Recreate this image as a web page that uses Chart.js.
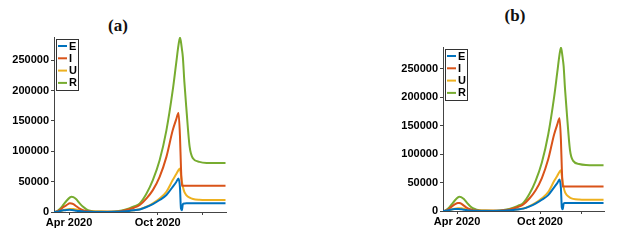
<!DOCTYPE html>
<html>
<head>
<meta charset="utf-8">
<script src="https://cdn.jsdelivr.net/npm/chart.js@4.4.0/dist/chart.umd.min.js"></script>
<style>
  body { margin: 0; background: #fff; width: 617px; height: 242px; position: relative; overflow: hidden; }
  .panel { position: absolute; top: 0; height: 242px; }
  .ttl { position: absolute; font: bold 17px "Liberation Serif", "Times New Roman", serif; color: #111; transform: translate(-50%, -50%); }
</style>
</head>
<body>
<div class="ttl" style="left:118px; top:26px">(a)</div>
<div class="ttl" style="left:515px; top:16px">(b)</div>
<div class="panel" style="left:0; width:300px"><canvas id="chart-a"></canvas></div>
<div class="panel" style="left:389px; width:228px"><canvas id="chart-b"></canvas></div>
<script>
// days since 1 Mar 2020
const days = [0, 5, 12, 19, 26, 33, 36, 40, 46, 53, 60, 67, 74, 81, 95, 110, 125, 140, 155, 165,
  177, 191, 204, 218, 232, 245, 252, 257, 260, 262, 264, 266, 269, 273, 280, 287, 300, 315, 335, 354];

const seriesE = [0, 300, 1500, 2700, 3400, 3500, 3300, 3000, 2200, 1500, 900, 500, 300, 200, 200, 200, 400, 900, 1800, 2800,
  4200, 8200, 13100, 19700, 27900, 41500, 49000, 55200, 40000, 6000, 3000, 13100, 14000, 14200, 14200, 14200, 14200, 14200, 14200, 14200];
const seriesI = [0, 500, 3000, 7700, 11500, 14200, 14000, 13000, 9500, 5500, 3000, 1500, 800, 500, 300, 300, 600, 1800, 4500, 7000,
  11500, 22400, 36000, 57900, 90700, 134400, 152000, 162800, 125000, 75000, 43100, 43000, 43000, 43000, 43000, 43000, 43000, 43000, 43000, 43000];
const seriesU = [0, 200, 1200, 2800, 4000, 4800, 5000, 4800, 4000, 2800, 1700, 1000, 600, 400, 300, 300, 500, 1000, 2000, 3000,
  4400, 8700, 14200, 22400, 33300, 52500, 62000, 69000, 71600, 62000, 50000, 41500, 33000, 27900, 23500, 21300, 20000, 19700, 19700, 19700];
const seriesR = [0, 800, 5000, 11500, 18500, 24000, 25100, 24500, 21000, 14200, 8500, 4400, 2200, 1200, 700, 600, 1000, 2500, 6000, 9000,
  14200, 30600, 52500, 85200, 134400, 200000, 243800, 275000, 287000, 280000, 268000, 254500, 215000, 172600, 107000, 88000, 82500, 80800, 80500, 80500];

const seriesLabels = ['E', 'I', 'U', 'R'];
const seriesColors = ['#0072BD', '#D95319', '#EDB120', '#77AC30'];

const xTickDays = [31, 214, 306];
const xTickLabels = ['Apr 2020', 'Oct 2020', ''];
const yTicks = [0, 50000, 100000, 150000, 200000, 250000];

const tickFont = { family: 'Liberation Sans, Arial, sans-serif', size: 11, weight: 'bold' };

// legend box drawn inside the plot, top-left corner
const boxLegend = {
  id: 'boxLegend',
  afterDraw(chart) {
    const ctx = chart.ctx;
    const area = chart.chartArea;
    const x0 = area.left + 2, y0 = area.top + 2;
    const w = 22, h = 51, step = 12.3;
    ctx.save();
    ctx.fillStyle = '#fff';
    ctx.fillRect(x0, y0, w, h);
    ctx.strokeStyle = '#333';
    ctx.lineWidth = 1;
    ctx.strokeRect(x0 + 0.5, y0 + 0.5, w, h);
    ctx.font = 'bold 11px "Liberation Sans", Arial, sans-serif';
    ctx.textBaseline = 'middle';
    chart.data.datasets.forEach((ds, i) => {
      const y = y0 + 7 + i * step;
      ctx.strokeStyle = ds.borderColor;
      ctx.lineWidth = 2;
      ctx.beginPath();
      ctx.moveTo(x0 + 2, y);
      ctx.lineTo(x0 + 11, y);
      ctx.stroke();
      ctx.fillStyle = '#000';
      ctx.fillText(ds.label, x0 + 13, y + 0.5);
    });
    ctx.restore();
  }
};

function makeChart(id, top, right, bottomH) {
  const series = [seriesE, seriesI, seriesU, seriesR];
  return new Chart(document.getElementById(id), {
    type: 'line',
    data: {
      datasets: series.map((vals, i) => ({
        label: seriesLabels[i],
        data: days.map((d, j) => ({ x: d, y: vals[j] })),
        borderColor: seriesColors[i],
        borderWidth: 2,
        pointRadius: 0,
        fill: false,
        cubicInterpolationMode: 'monotone'
      }))
    },
    options: {
      responsive: false,
      animation: false,
      maintainAspectRatio: false,
      layout: { padding: { top: top, right: right, left: 0, bottom: 0 } },
      plugins: { legend: { display: false }, tooltip: { enabled: false } },
      scales: {
        x: {
          type: 'linear',
          min: 0,
          max: 355,
          afterBuildTicks: (scale) => { scale.ticks = xTickDays.map(v => ({ value: v })); },
          afterFit: (scale) => { scale.height = bottomH; },
          grid: { drawOnChartArea: false, tickLength: 3, color: '#444' },
          border: { color: '#444' },
          ticks: {
            autoSkip: false,
            maxRotation: 0,
            padding: 1,
            color: '#000',
            font: tickFont,
            callback: (v) => xTickLabels[xTickDays.indexOf(v)]
          }
        },
        y: {
          min: 0,
          max: 288000,
          afterBuildTicks: (scale) => { scale.ticks = yTicks.map(v => ({ value: v })); },
          afterFit: (scale) => { scale.width = 54; },
          grid: { drawOnChartArea: false, tickLength: 3, color: '#444' },
          border: { color: '#444' },
          ticks: { padding: 2, color: '#000', font: tickFont, callback: (v) => String(v) }
        }
      }
    },
    plugins: [boxLegend]
  });
}

const cA = document.getElementById('chart-a');
cA.width = 300; cA.height = 242;
const cB = document.getElementById('chart-b');
cB.width = 228; cB.height = 242;

makeChart('chart-a', 37, 74, 30);
makeChart('chart-b', 47, 13, 31);
</script>
</body>
</html>
